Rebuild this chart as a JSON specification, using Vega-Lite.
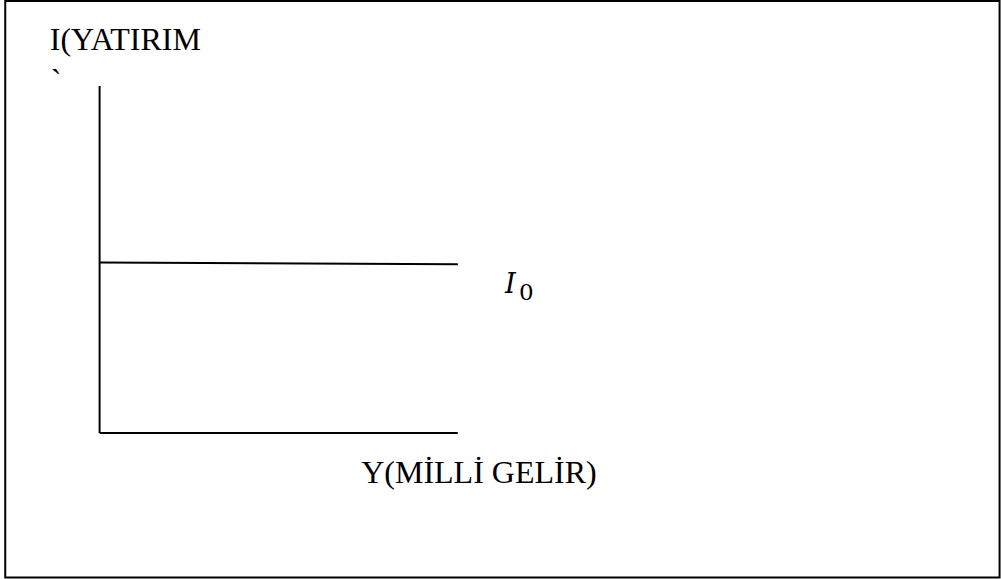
{
  "$schema": "https://vega.github.io/schema/vega-lite/v6.json",
  "width": 1001,
  "height": 579,
  "autosize": {"type": "fit", "contains": "padding"},
  "padding": 0,
  "background": "white",
  "config": {"view": {"stroke": null}},
  "datasets": {
    "frame": [{"x": -2.652, "x2": 25.3, "y": -4.164, "y2": 12.45}],
    "segments": [
      {"seg": "I axis", "x": 0, "y": 0, "x2": 0, "y2": 10},
      {"seg": "Y axis", "x": 0, "y": 0, "x2": 10.07, "y2": 0},
      {"seg": "I0", "x": 0, "y": 4.91, "x2": 10.07, "y2": 4.86}
    ],
    "labels": [
      {"role": "title", "label": "I(YATIRIM", "x": -1.40, "y": 11.04},
      {"role": "title", "label": "`", "x": -1.37, "y": 9.85},
      {"role": "title", "label": "Y(MİLLİ GELİR)", "x": 7.354, "y": -1.44},
      {"role": "italic", "label": "I", "x": 11.40, "y": 4.03},
      {"role": "sub", "label": "0", "x": 11.79, "y": 3.83}
    ]
  },
  "layer": [
    {
      "data": {"name": "frame"},
      "mark": {"type": "rect", "fillOpacity": 0, "stroke": "black", "strokeWidth": 2},
      "encoding": {
        "x": {"field": "x", "type": "quantitative", "scale": {"domain": [-2.8, 25.2], "nice": false, "zero": false}, "axis": null},
        "x2": {"field": "x2"},
        "y": {"field": "y", "type": "quantitative", "scale": {"domain": [-4.21, 12.48], "nice": false, "zero": false}, "axis": null},
        "y2": {"field": "y2"}
      }
    },
    {
      "data": {"name": "segments"},
      "mark": {"type": "rule", "color": "black", "strokeWidth": 2},
      "encoding": {
        "x": {"field": "x", "type": "quantitative"},
        "x2": {"field": "x2"},
        "y": {"field": "y", "type": "quantitative"},
        "y2": {"field": "y2"}
      }
    },
    {
      "data": {"name": "labels"},
      "transform": [{"filter": "datum.role === 'title'"}],
      "mark": {"type": "text", "font": "Liberation Serif", "fontSize": 32, "align": "left", "baseline": "alphabetic", "color": "black"},
      "encoding": {
        "x": {"field": "x", "type": "quantitative"},
        "y": {"field": "y", "type": "quantitative"},
        "text": {"field": "label"}
      }
    },
    {
      "data": {"name": "labels"},
      "transform": [{"filter": "datum.role === 'italic'"}],
      "mark": {"type": "text", "font": "DejaVu Serif", "fontStyle": "italic", "fontSize": 27, "align": "left", "baseline": "alphabetic", "color": "black"},
      "encoding": {
        "x": {"field": "x", "type": "quantitative"},
        "y": {"field": "y", "type": "quantitative"},
        "text": {"field": "label"}
      }
    },
    {
      "data": {"name": "labels"},
      "transform": [{"filter": "datum.role === 'sub'"}],
      "mark": {"type": "text", "font": "DejaVu Serif", "fontSize": 23, "align": "left", "baseline": "alphabetic", "color": "black"},
      "encoding": {
        "x": {"field": "x", "type": "quantitative"},
        "y": {"field": "y", "type": "quantitative"},
        "text": {"field": "label"}
      }
    }
  ]
}
